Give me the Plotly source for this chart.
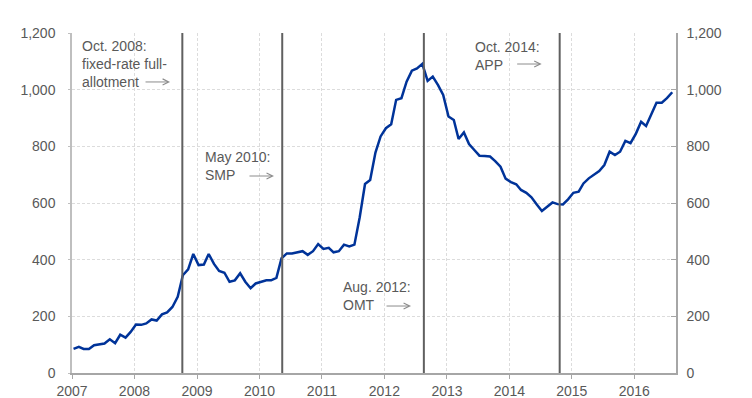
import pandas as pd
import plotly.graph_objects as go

# Monthly values, Jan 2007 - Aug 2016
values = [
    85, 92, 85, 85, 98, 102, 104, 119, 105, 135, 125, 145,          # 2007
    171, 170, 175, 189, 185, 207, 214, 233, 269, 345, 366, 420,     # 2008
    381, 383, 420, 385, 360, 354, 322, 327, 352, 322, 299, 316,     # 2009
    321, 327, 327, 336, 405, 422, 422, 426, 430, 417, 430, 455,     # 2010
    438, 442, 426, 430, 453, 447, 453, 550, 667, 681, 778, 835,     # 2011
    864, 878, 964, 970, 1028, 1067, 1075, 1091, 1031, 1046, 1016, 981,  # 2012
    905, 893, 826, 849, 808, 787, 767, 766, 764, 748, 728, 686,     # 2013
    674, 666, 646, 636, 620, 595, 572, 587, 602, 596, 595, 613,     # 2014
    636, 640, 669, 687, 699, 713, 734, 781, 769, 781, 819, 811,     # 2015
    844, 887, 872, 914, 954, 954, 970, 991,                         # 2016
]
dates = pd.date_range(start="2007-01-01", periods=len(values), freq="MS") + pd.Timedelta(days=9)

event_dates = ["2008-10-07", "2010-05-14", "2012-08-19", "2014-10-22"]
event_labels = [
    "Oct. 2008:<br>fixed-rate full-<br>allotment",
    "May 2010:<br>SMP",
    "Aug. 2012:<br>OMT",
    "Oct. 2014:<br>APP",
]
# label placement (paper coords): text left/center, arrow tip
label_pos = [(0.0132, 0.910), (0.2169, 0.6088), (0.4454, 0.2265), (0.6634, 0.9324)]
arrow_tip = [(0.1623, 0.856), (0.3344, 0.5794), (0.5613, 0.197), (0.7776, 0.9088)]

y_ticks = [0, 200, 400, 600, 800, 1000, 1200]
x_ticks = [f"{y}-01-01" for y in range(2007, 2017)]
x_ticklabels = [str(y) for y in range(2007, 2017)]

TXT = "#595959"
FONT = "Liberation Sans, Arial, sans-serif"

fig = go.Figure()
fig.add_trace(go.Scatter(x=dates, y=values, mode="lines",
                         line=dict(color="#003399", width=2.5),
                         showlegend=False, hoverinfo="x+y"))
fig.add_trace(go.Scatter(x=[dates[0]], y=[0], yaxis="y2", mode="markers",
                         marker=dict(opacity=0), showlegend=False, hoverinfo="skip"))

for d in event_dates:
    fig.add_shape(type="line", xref="x", yref="paper", x0=d, x1=d, y0=0, y1=1,
                  line=dict(color="#606060", width=2), layer="above")

for lbl, (px, py) in zip(event_labels, label_pos):
    fig.add_annotation(text=lbl, xref="paper", yref="paper", x=px, y=py,
                       xanchor="left", yanchor="middle", align="left",
                       showarrow=False, font=dict(size=14, color=TXT, family=FONT))
for (tx, ty) in arrow_tip:
    fig.add_annotation(text="", xref="paper", yref="paper", x=tx, y=ty,
                       showarrow=True, ax=-26, ay=0, arrowhead=5, arrowsize=1.2,
                       arrowwidth=1, arrowcolor="#8c8c8c", standoff=0, startstandoff=0)

grid = dict(showgrid=True, gridcolor="#dcdcdc", griddash="3px,2px", gridwidth=1.2)

# the page body adds an 8px offset, so margins are reduced by 8px
fig.update_layout(
    width=752, height=398,
    margin=dict(l=64, r=84, t=25, b=33),
    paper_bgcolor="white", plot_bgcolor="white",
    font=dict(family=FONT, size=14, color=TXT),
    xaxis=dict(range=["2007-01-01", "2016-09-01"], tickvals=x_ticks, ticktext=x_ticklabels,
               showline=True, linecolor="#a6a6a6", linewidth=1.5,
               ticks="outside", ticklen=4, tickcolor="#a6a6a6", automargin=False,
               ticklabelstandoff=0, zeroline=False, **grid),
    yaxis=dict(range=[0, 1200], tickvals=y_ticks, tickformat=",d",
               showline=True, linecolor="#bfbfbf", linewidth=1.5,
               ticks="outside", ticklen=2, tickcolor="#bfbfbf", automargin=False,
               ticklabelstandoff=10, zeroline=False, **grid),
    yaxis2=dict(range=[0, 1200], tickvals=y_ticks, tickformat=",d", overlaying="y",
                side="right", showline=True, linecolor="#a6a6a6", linewidth=1.5,
                ticks="inside", ticklen=5, tickcolor="#a6a6a6", automargin=False,
                ticklabelstandoff=6, showgrid=False, zeroline=False),
)

fig.write_html("out.html")
